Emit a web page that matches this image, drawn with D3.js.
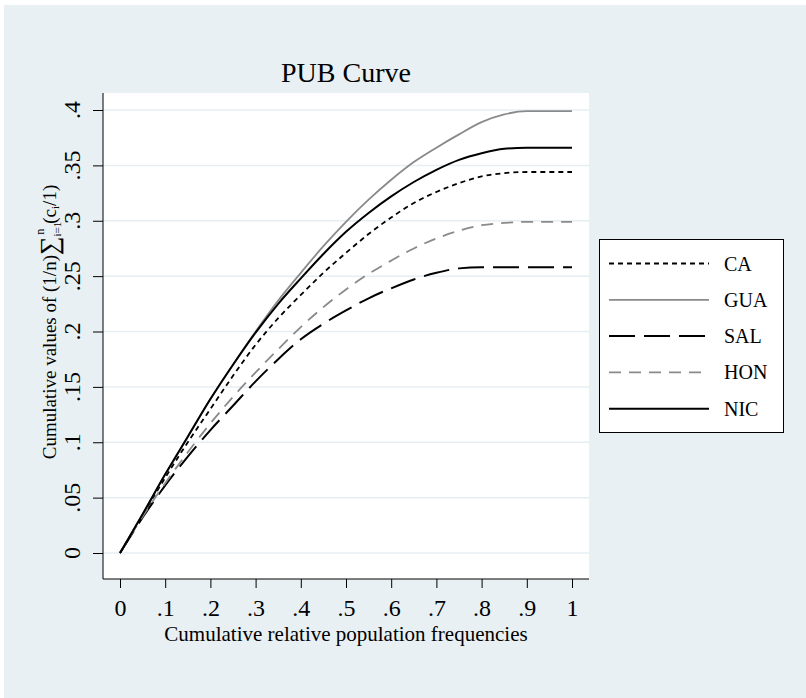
<!DOCTYPE html>
<html>
<head>
<meta charset="utf-8">
<script src="https://cdn.jsdelivr.net/npm/d3@7"></script>
<style>
  body { margin: 0; background: #fff; }
  text { font-family: "Liberation Serif", "Times New Roman", serif; fill: #000; }
</style>
</head>
<body>
<div id="chart"></div>
<script>
// data
const xValues = [0, .05, .1, .15, .2, .25, .3, .35, .4, .45, .5, .55, .6, .65, .7, .75, .8, .85, .9, .95, 1];
const CA  = [0, .034, .068, .100, .130, .160, .188, .212, .233, .253, .271, .288, .303, .316, .326, .334, .340, .343, .344, .344, .344];
const GUA = [0, .035, .071, .105, .139, .170, .200, .228, .253, .277, .299, .319, .337, .353, .366, .378, .389, .396, .399, .399, .399];
const SAL = [0, .032, .061, .087, .111, .133, .155, .175, .193, .207, .219, .230, .239, .247, .253, .257, .258, .258, .258, .258, .258];
const HON = [0, .033, .063, .091, .117, .141, .163, .184, .204, .222, .238, .252, .264, .275, .284, .291, .296, .298, .299, .299, .299];
const NIC = [0, .035, .071, .105, .139, .170, .199, .225, .248, .270, .290, .307, .322, .335, .346, .355, .361, .365, .366, .366, .366];

const seriesNames = ["CA", "GUA", "SAL", "HON", "NIC"];
const seriesData = [CA, GUA, SAL, HON, NIC];
const xTickValues = [0, .1, .2, .3, .4, .5, .6, .7, .8, .9, 1];
const xTickLabels = ["0", ".1", ".2", ".3", ".4", ".5", ".6", ".7", ".8", ".9", "1"];
const yTickValues = [0, .05, .1, .15, .2, .25, .3, .35, .4];
const yTickLabels = ["0", ".05", ".1", ".15", ".2", ".25", ".3", ".35", ".4"];

// line styles per series
const styles = {
  CA:  { color: "#000", width: 1.8, dash: "5,4" },
  GUA: { color: "#8a8a8a", width: 1.8, dash: null },
  SAL: { color: "#000", width: 2, dash: "26,9" },
  HON: { color: "#8a8a8a", width: 1.8, dash: "12,8" },
  NIC: { color: "#000", width: 2, dash: null }
};

const W = 806, H = 698;
const plot = { left: 103, top: 93, right: 589, bottom: 579 };

const svg = d3.select("#chart").append("svg")
  .attr("width", W)
  .attr("height", H);

// outer panel
svg.append("rect")
  .attr("x", 4).attr("y", 5)
  .attr("width", W - 4).attr("height", H - 5)
  .attr("fill", "#e9f0f3");

// plot region
svg.append("rect")
  .attr("x", plot.left).attr("y", plot.top)
  .attr("width", plot.right - plot.left)
  .attr("height", plot.bottom - plot.top)
  .attr("fill", "#fff");

const x = d3.scaleLinear().domain([0, 1]).range([120, 572]);
const y = d3.scaleLinear().domain([0, .4]).range([553, 110]);

// gridlines
svg.append("g")
  .selectAll("line")
  .data(yTickValues)
  .enter().append("line")
  .attr("x1", plot.left).attr("x2", plot.right)
  .attr("y1", d => y(d)).attr("y2", d => y(d))
  .attr("stroke", "#e6eef2")
  .attr("stroke-width", 1.5);

// y axis
const yAxis = svg.append("g")
  .attr("transform", `translate(${plot.left},0)`)
  .call(d3.axisLeft(y).tickValues(yTickValues).tickSize(10).tickFormat(""));
yAxis.select(".domain").attr("d", `M0,${plot.top}V${plot.bottom}`).attr("stroke", "#000");
yAxis.selectAll(".tick line").attr("stroke", "#000");

svg.append("g")
  .selectAll("text")
  .data(yTickValues)
  .enter().append("text")
  .attr("transform", (d) => `translate(80,${y(d)}) rotate(-90)`)
  .attr("text-anchor", "middle")
  .attr("font-size", 24)
  .text((d, i) => yTickLabels[i]);

// x axis
const xAxis = svg.append("g")
  .attr("transform", `translate(0,${plot.bottom})`)
  .call(d3.axisBottom(x).tickValues(xTickValues).tickSize(9).tickFormat((d, i) => xTickLabels[i]));
xAxis.select(".domain").attr("d", `M${plot.left},0H${plot.right}`).attr("stroke", "#000");
xAxis.selectAll(".tick line").attr("stroke", "#000");
xAxis.selectAll(".tick text")
  .attr("y", 0).attr("dy", null)
  .attr("transform", "translate(0,37)")
  .attr("font-size", 24)
  .attr("font-family", "Liberation Serif");

// axis titles
svg.append("text")
  .attr("x", 346).attr("y", 641)
  .attr("text-anchor", "middle")
  .attr("font-size", 21)
  .text("Cumulative relative population frequencies");

const yTitle = svg.append("text")
  .attr("transform", "translate(56,322) rotate(-90)")
  .attr("text-anchor", "middle")
  .attr("font-size", 19);
yTitle.append("tspan").text("Cumulative values of (1/n)");
yTitle.append("tspan").attr("font-size", 26).attr("dy", 2).text("\u2211");
yTitle.append("tspan").attr("font-size", 11).attr("dy", 3).text("i=1");
yTitle.append("tspan").attr("font-size", 12).attr("dx", -13).attr("dy", -17).text("n");
yTitle.append("tspan").attr("dx", 5).attr("dy", 12).text("(c");
yTitle.append("tspan").attr("font-size", 11).attr("dy", 3).text("i");
yTitle.append("tspan").attr("dy", -3).text("/1)");

// title
svg.append("text")
  .attr("x", 346).attr("y", 82)
  .attr("text-anchor", "middle")
  .attr("font-size", 28)
  .text("PUB Curve");

// curves
const line = d3.line()
  .x((d, i) => x(xValues[i]))
  .y(d => y(d))
  .curve(d3.curveMonotoneX);

svg.append("g")
  .selectAll("path")
  .data(seriesNames)
  .enter().append("path")
  .attr("d", (name, i) => line(seriesData[i]))
  .attr("fill", "none")
  .attr("stroke", name => styles[name].color)
  .attr("stroke-width", name => styles[name].width)
  .attr("stroke-dasharray", name => styles[name].dash);

// legend
const legend = svg.append("g");
legend.append("rect")
  .attr("x", 599.5).attr("y", 239.5)
  .attr("width", 184).attr("height", 193)
  .attr("fill", "#fff")
  .attr("stroke", "#000");

const legendItems = legend.selectAll(".item")
  .data(seriesNames)
  .enter().append("g")
  .attr("class", "item")
  .attr("transform", (d, i) => `translate(0,${263.5 + i * 36.3})`);

legendItems.append("line")
  .attr("x1", 609).attr("x2", 709)
  .attr("stroke", d => styles[d].color)
  .attr("stroke-width", d => styles[d].width)
  .attr("stroke-dasharray", d => styles[d].dash);

legendItems.append("text")
  .attr("x", 724).attr("y", 7)
  .attr("font-size", 20)
  .text(d => d);
</script>
</body>
</html>
